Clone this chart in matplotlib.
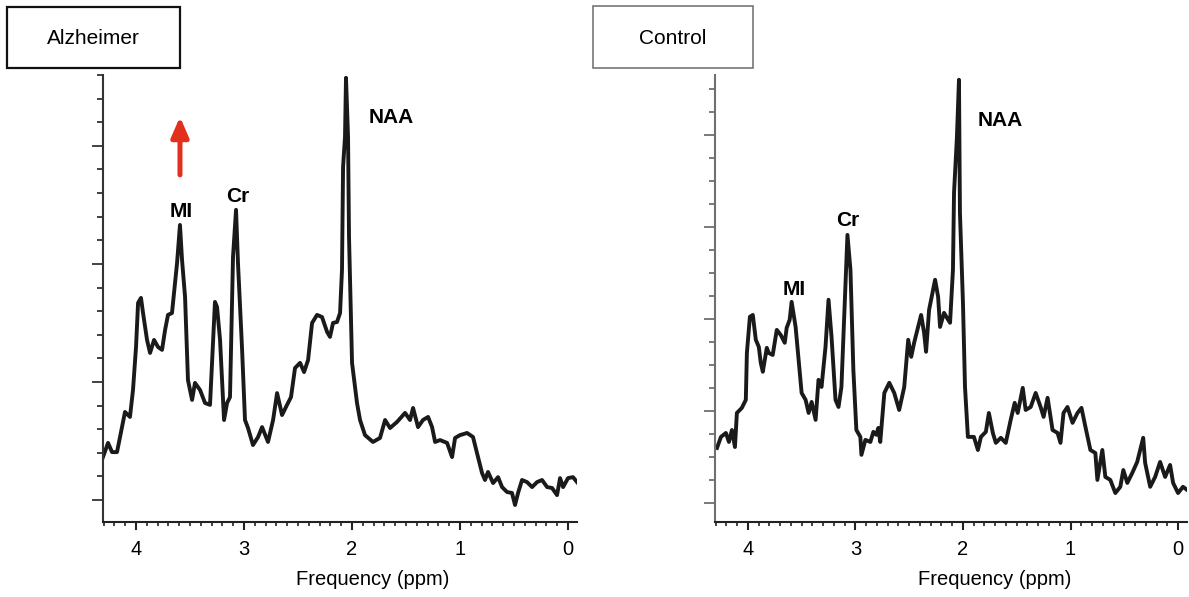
import numpy as np
import matplotlib
matplotlib.use('Agg')
import matplotlib.pyplot as plt
from matplotlib.patches import Rectangle
from matplotlib.ticker import MultipleLocator

plt.rcParams['font.family'] = ['Liberation Sans', 'DejaVu Sans']

# spectra (ppm, arbitrary intensity)
alz_ppm = [4.306, 4.259, 4.222, 4.176, 4.148, 4.102, 4.056, 4.028, 4.000, 3.981,
           3.954, 3.935, 3.898, 3.870, 3.833, 3.796, 3.759, 3.731, 3.704, 3.667,
           3.620, 3.593, 3.574, 3.546, 3.519, 3.481, 3.454, 3.407, 3.361, 3.315,
           3.269, 3.250, 3.222, 3.185, 3.157, 3.130, 3.102, 3.074, 3.056, 3.019,
           2.991, 2.963, 2.917, 2.870, 2.833, 2.778, 2.731, 2.694, 2.648, 2.602,
           2.565, 2.528, 2.481, 2.444, 2.407, 2.370, 2.324, 2.278, 2.231, 2.204,
           2.176, 2.139, 2.111, 2.093, 2.083, 2.065, 2.056, 2.037, 2.028, 2.000,
           1.954, 1.926, 1.880, 1.806, 1.741, 1.694, 1.648, 1.583, 1.509, 1.463,
           1.435, 1.389, 1.343, 1.296, 1.259, 1.231, 1.185, 1.120, 1.074, 1.046,
           1.000, 0.935, 0.880, 0.843, 0.796, 0.769, 0.741, 0.694, 0.648, 0.611,
           0.565, 0.519, 0.491, 0.463, 0.426, 0.380, 0.333, 0.287, 0.241, 0.194,
           0.148, 0.102, 0.074, 0.046, 0.000, -0.046, -0.083]
alz_int = [1.82, 2.42, 2.03, 2.03, 2.67, 3.73, 3.52, 4.66, 6.48, 8.35,
           8.56, 7.92, 6.78, 6.23, 6.78, 6.48, 6.36, 7.20, 7.84, 7.92,
           10.04, 11.65, 10.17, 8.60, 5.08, 4.24, 4.96, 4.66, 4.11, 4.03,
           8.39, 8.18, 6.78, 3.39, 4.11, 4.36, 10.30, 12.29, 10.04, 6.48,
           3.39, 3.05, 2.33, 2.67, 3.09, 2.46, 3.39, 4.53, 3.60, 4.03,
           4.36, 5.59, 5.81, 5.42, 5.93, 7.50, 7.84, 7.75, 7.12, 6.91,
           7.50, 7.54, 7.92, 9.75, 14.11, 15.38, 17.88, 15.38, 11.14, 5.81,
           4.11, 3.39, 2.75, 2.46, 2.63, 3.39, 3.05, 3.31, 3.69, 3.39,
           3.90, 3.09, 3.39, 3.52, 3.09, 2.46, 2.54, 2.42, 1.82, 2.63,
           2.75, 2.84, 2.67, 1.99, 1.14, 0.85, 1.19, 0.72, 0.97, 0.55,
           0.34, 0.30, -0.21, 0.30, 0.85, 0.76, 0.55, 0.76, 0.85, 0.55,
           0.51, 0.21, 0.93, 0.55, 0.93, 0.97, 0.76]

ctl_ppm = [4.287, 4.250, 4.204, 4.176, 4.148, 4.120, 4.102, 4.056, 4.019, 4.009,
           3.981, 3.954, 3.926, 3.898, 3.880, 3.861, 3.824, 3.806, 3.769, 3.731,
           3.694, 3.657, 3.639, 3.611, 3.593, 3.556, 3.528, 3.500, 3.463, 3.435,
           3.407, 3.370, 3.343, 3.315, 3.278, 3.250, 3.222, 3.185, 3.157, 3.130,
           3.093, 3.074, 3.046, 3.019, 2.991, 2.954, 2.944, 2.907, 2.861, 2.833,
           2.806, 2.787, 2.769, 2.731, 2.685, 2.639, 2.593, 2.546, 2.509, 2.481,
           2.454, 2.417, 2.389, 2.361, 2.343, 2.315, 2.278, 2.259, 2.231, 2.213,
           2.176, 2.148, 2.120, 2.093, 2.083, 2.056, 2.037, 2.028, 2.000, 1.981,
           1.954, 1.898, 1.861, 1.833, 1.787, 1.759, 1.722, 1.694, 1.648, 1.602,
           1.556, 1.519, 1.491, 1.444, 1.417, 1.370, 1.324, 1.278, 1.250, 1.213,
           1.167, 1.120, 1.093, 1.065, 1.028, 0.981, 0.935, 0.898, 0.861, 0.815,
           0.769, 0.750, 0.704, 0.676, 0.630, 0.583, 0.537, 0.509, 0.472, 0.426,
           0.380, 0.324, 0.306, 0.259, 0.213, 0.167, 0.120, 0.074, 0.046, 0.000,
           -0.046, -0.083]
ctl_int = [2.39, 2.87, 3.04, 2.65, 3.17, 2.43, 3.91, 4.13, 4.48, 6.52,
           8.09, 8.17, 7.09, 6.78, 6.09, 5.70, 6.74, 6.52, 6.43, 7.52,
           7.30, 6.96, 7.61, 7.96, 8.74, 7.65, 6.22, 4.78, 4.48, 3.91,
           4.39, 3.61, 5.35, 5.04, 6.78, 8.83, 7.22, 4.48, 4.17, 5.04,
           9.39, 11.65, 10.13, 5.78, 3.17, 2.87, 2.09, 2.74, 2.65, 3.09,
           2.96, 3.26, 2.65, 4.78, 5.22, 4.78, 4.04, 5.04, 7.09, 6.35,
           6.96, 7.65, 8.17, 7.39, 6.57, 8.39, 9.26, 9.70, 8.96, 7.65,
           8.26, 8.04, 7.83, 10.13, 13.48, 15.91, 18.39, 12.61, 8.70, 5.04,
           2.87, 2.87, 2.30, 2.87, 3.09, 3.91, 3.04, 2.61, 2.83, 2.61,
           3.61, 4.35, 3.91, 5.00, 4.04, 4.17, 4.78, 4.17, 3.74, 4.57,
           3.17, 3.04, 2.61, 3.91, 4.17, 3.48, 3.91, 4.13, 3.30, 2.30,
           2.17, 1.00, 2.30, 1.13, 1.00, 0.43, 0.70, 1.43, 0.87, 1.30,
           1.78, 2.83, 1.74, 0.70, 1.13, 1.78, 1.13, 1.65, 0.87, 0.43,
           0.70, 0.57]

x_ticks = [4, 3, 2, 1, 0]
panel_titles = ['Alzheimer', 'Control']
peak_names = ['MI', 'Cr', 'NAA']

fig = plt.figure(figsize=(11.89, 5.97), dpi=100)
ax1 = fig.add_axes([0.0866, 0.1256, 0.3987, 0.7488])
ax2 = fig.add_axes([0.6013, 0.1256, 0.3970, 0.7488])


def style_axis(ax, spine_col, ymajor, ylim, label_x):
    ax.set_xlim(4.306, -0.083)
    ax.set_ylim(*ylim)
    ax.spines['top'].set_visible(False)
    ax.spines['right'].set_visible(False)
    ax.spines['left'].set_color(spine_col)
    ax.spines['left'].set_linewidth(1.5)
    ax.spines['bottom'].set_color('#222222')
    ax.spines['bottom'].set_linewidth(1.5)
    ax.set_xticks(x_ticks)
    ax.xaxis.set_minor_locator(MultipleLocator(0.1))
    ax.yaxis.set_major_locator(MultipleLocator(ymajor))
    ax.yaxis.set_minor_locator(MultipleLocator(1))
    ax.tick_params(axis='x', which='major', length=6, width=1.5, color='#222222',
                   labelsize=14.5, pad=7)
    ax.tick_params(axis='x', which='minor', length=3, width=1.2, color='#222222')
    ax.tick_params(axis='y', which='major', length=8, width=1.3, color=spine_col,
                   labelleft=False)
    ax.tick_params(axis='y', which='minor', length=4, width=1.3, color=spine_col)
    ax.set_xlabel('Frequency (ppm)', fontsize=14.5)
    ax.xaxis.set_label_coords(label_x, -0.108)


ax1.plot(alz_ppm, alz_int, color='#1a1a1a', lw=2.8, solid_joinstyle='round')
ax2.plot(ctl_ppm, ctl_int, color='#1a1a1a', lw=2.8, solid_joinstyle='round')

style_axis(ax1, '#333333', 5, (-0.93, 18.0), 0.57)
style_axis(ax2, '#707070', 4, (-0.83, 18.6), 0.593)

# peak labels
lab1 = [(3.58, 12.2), (3.06, 12.84), (1.64, 16.2)]
lab2 = [(3.57, 9.26), (3.07, 12.26), (1.65, 16.6)]
for ax, pos in [(ax1, lab1), (ax2, lab2)]:
    for name, (px, py) in zip(peak_names, pos):
        ax.text(px, py, name, fontsize=15, fontweight='bold', ha='center', va='center')

# red arrow above MI (Alzheimer)
ax1.annotate('', xy=(3.593, 16.23), xytext=(3.593, 13.77),
             arrowprops=dict(arrowstyle='-|>,head_width=0.26,head_length=0.6',
                             mutation_scale=20, lw=3.6, color='#e2301f',
                             shrinkA=0, shrinkB=0))

# title boxes
W, H = 1189.0, 597.0
fig.add_artist(Rectangle((7 / W, 1 - 68 / H), 173 / W, 61 / H, transform=fig.transFigure,
                         fill=False, ec='#111111', lw=1.6))
fig.add_artist(Rectangle((593 / W, 1 - 68 / H), 160 / W, 62 / H, transform=fig.transFigure,
                         fill=False, ec='#777777', lw=1.2))
fig.text(93 / W, 1 - 38 / H, panel_titles[0], fontsize=15, ha='center', va='center')
fig.text(673 / W, 1 - 38 / H, panel_titles[1], fontsize=15, ha='center', va='center')

fig.savefig('out.png', dpi=100)
